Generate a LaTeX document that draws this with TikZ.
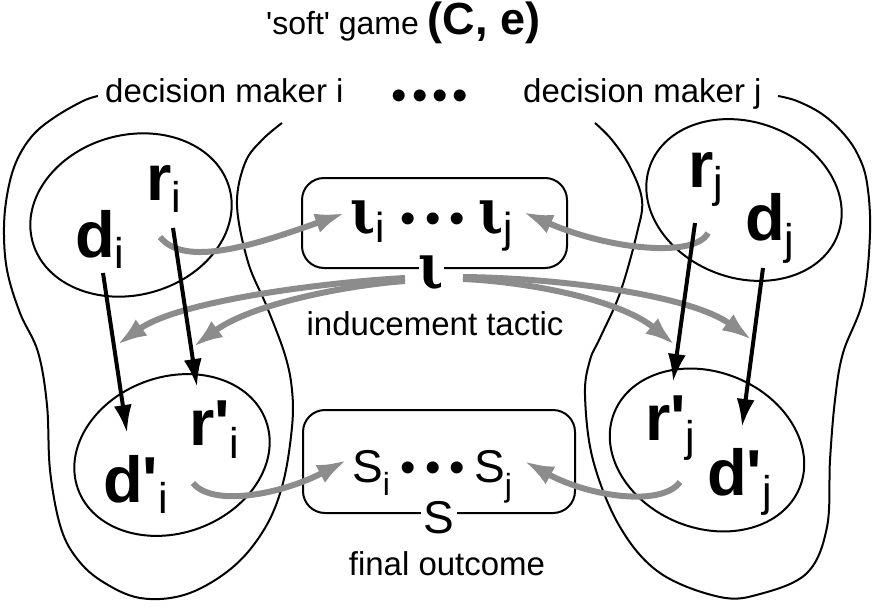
\documentclass[tikz,border=0pt]{standalone}
\usepackage{fontspec}
\usepackage{graphicx}
\setmainfont{Liberation Sans}
\newfontfamily\iotafont{DejaVu Serif}
\usetikzlibrary{arrows.meta}
\newcommand{\fsz}[1]{\fontsize{#1}{#1}\selectfont}
\newcommand{\iot}{\scalebox{1.15}[1.4]{\fsz{45}\iotafont\bfseries ι}}
\tikzset{
  outline/.style={line width=2pt},
  blk/.style={line width=4pt, -{Latex[length=28pt,width=18pt]}},
  gry/.style={line width=6pt, draw=black!45, -{Latex[length=30pt,width=20pt]}},
  lbl/.style={inner sep=0pt, anchor=base west},
  txt/.style={inner sep=0pt, anchor=base},
  tbox/.style={draw, line width=2pt, rounded corners=22pt, inner sep=0pt},
}
\begin{document}
\begin{tikzpicture}[x=1pt,y=-1pt]
\useasboundingbox (0,0) rectangle (873,608);

% regions of the two decision makers
\draw[outline] plot[smooth, tension=0.6] coordinates {(98,96) (83,101) (55,117) (33,135) (17,160) (8,190) (4,227) (7,270) (20,313) (38,352) (47,405) (50,470) (60,525) (75,556) (100,580) (140,598) (187,594) (233,567) (265,528) (283,483) (292,427) (292,390) (285,355) (267,307) (248,262) (237,205) (245,163) (262,140) (282,123)};
\draw[outline] plot[smooth, tension=0.6] coordinates {(778,96) (797,101) (822,114) (843,133) (858,155) (867,183) (870,233) (863,300) (843,353) (835,400) (830,460) (827,527) (807,573) (760,594) (720,597) (660,573) (620,527) (593,460) (585,395) (590,360) (600,338) (620,293) (637,233) (642,200) (630,167) (612,140) (595,123)};

% ellipses
\draw[outline, rotate around={15:(131,215)}] (131,215) ellipse[x radius=102, y radius=80];
\draw[outline, rotate around={-20:(744,200)}] (744,200) ellipse[x radius=100, y radius=78];
\draw[outline, rotate around={20:(172,455)}] (172,455) ellipse[x radius=100, y radius=78];
\draw[outline, rotate around={-22:(707,450)}] (707,450) ellipse[x radius=100, y radius=78];

% boxes
\node[tbox, minimum width=265pt, minimum height=90pt] (ibox) at (434.5,223) {};
\node[tbox, minimum width=272pt, minimum height=103pt] (sbox) at (439,461.5) {};

% title and headings
\node[lbl] (title) at (266,34) {\fsz{32}\textquotesingle soft\textquotesingle{} game {\fsz{45}\bfseries (C, e)}};
\node[lbl] (dmi) at (105,102) {\fsz{33}decision maker i};
\node[txt] (dots) at (430,110) {\fsz{44}•\hspace{5pt}•\hspace{5pt}•\hspace{5pt}•};
\node[lbl] (dmj) at (523,102) {\fsz{33}decision maker j};

% labels in ellipses
\node[lbl] (di) at (75,257) {\fsz{65}\bfseries d\raisebox{-11pt}{\fsz{43}\mdseries i}};
\node[lbl] (ri) at (146,200) {\fsz{65}\bfseries r\raisebox{-12pt}{\fsz{43}\mdseries i}};
\node[lbl] (rj) at (688,187) {\fsz{65}\bfseries r\raisebox{-10pt}{\fsz{43}\mdseries j}};
\node[lbl] (dj) at (745,240) {\fsz{65}\bfseries d\raisebox{-14pt}{\fsz{43}\mdseries j}};
\node[lbl] (rpi) at (189,445) {\fsz{65}\bfseries r\textquotesingle\raisebox{-13pt}{\fsz{43}\mdseries i}};
\node[lbl] (dpi) at (103,502) {\fsz{65}\bfseries d\textquotesingle\raisebox{-11pt}{\fsz{43}\mdseries i}};
\node[lbl] (rpj) at (645,440) {\fsz{65}\bfseries r\textquotesingle\raisebox{-11pt}{\fsz{43}\mdseries j}};
\node[lbl] (dpj) at (707,495) {\fsz{65}\bfseries d\textquotesingle\raisebox{-11pt}{\fsz{43}\mdseries j}};

% inducement tactic box
\node[lbl] (li) at (350,233) {\iot\raisebox{-9pt}{\fsz{42}i}};
\node[txt] (ldots) at (433,233) {\fsz{44}•\hspace{9pt}•\hspace{9pt}•};
\node[lbl] (lj) at (478,233) {\iot\raisebox{-9pt}{\fsz{42}j}};
\node[fill=white, inner sep=0pt, minimum width=23pt] (iota) at (431.5,273) {\iot};
\node[txt] (itac) at (435,335) {\fsz{33}inducement tactic};

% final outcome box
\node[lbl] (si) at (352,482) {\fsz{46}S\raisebox{-13pt}{\fsz{32}i}};
\node[txt] (sdots) at (433,482) {\fsz{44}•\hspace{9pt}•\hspace{9pt}•};
\node[lbl] (sj) at (474,482) {\fsz{46}S\raisebox{-14pt}{\fsz{32}j}};
\node[txt, fill=white, minimum width=36pt] (S) at (439,533) {\fsz{46}S};
\node[txt] (fout) at (447,575) {\fsz{33}final outcome};

% connector end points
\coordinate (g1s) at (160,237); \coordinate (g1e) at (345,213);
\coordinate (g2s) at (708,233); \coordinate (g2e) at (523,212);
\coordinate (l1s) at (405,278); \coordinate (l1e) at (117,345);
\coordinate (l2s) at (405,281); \coordinate (l2e) at (193,347);
\coordinate (r1s) at (463,279); \coordinate (r1e) at (675,345);
\coordinate (r2s) at (463,277); \coordinate (r2e) at (752,340);
\coordinate (g3s) at (193,483); \coordinate (g3e) at (347,460);
\coordinate (g4s) at (680,482); \coordinate (g4e) at (524,461);

% gray (inducement / outcome) arrows
\draw[gry] (g1s) .. controls (185,268) and (255,245) .. (g1e);
\draw[gry] (g2s) .. controls (695,258) and (610,250) .. (g2e);
\draw[gry] (l1s) .. controls (330,282) and (180,300) .. (l1e);
\draw[gry] (l2s) .. controls (340,286) and (250,305) .. (l2e);
\draw[gry] (r1s) .. controls (530,282) and (620,300) .. (r1e);
\draw[gry] (r2s) .. controls (560,278) and (690,295) .. (r2e);
\draw[gry] (g3s) .. controls (212,507) and (280,495) .. (g3e);
\draw[gry] (g4s) .. controls (662,507) and (590,497) .. (g4e);

% black arrows
\coordinate (b1s) at (103,273); \coordinate (b1e) at (127,433);
\coordinate (b2s) at (173,228); \coordinate (b2e) at (197,387);
\coordinate (b3s) at (695,223); \coordinate (b3e) at (673,382);
\coordinate (b4s) at (763,268); \coordinate (b4e) at (742,427);
\draw[blk] (b1s) -- (b1e);
\draw[blk] (b2s) -- (b2e);
\draw[blk] (b3s) -- (b3e);
\draw[blk] (b4s) -- (b4e);
\end{tikzpicture}
\end{document}
